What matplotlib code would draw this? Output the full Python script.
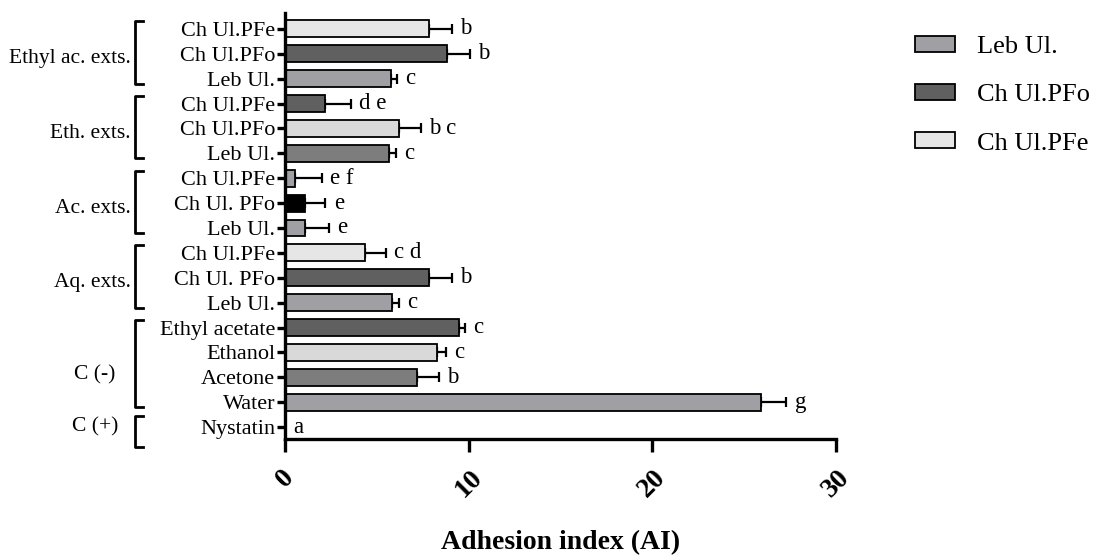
import matplotlib
matplotlib.use("Agg")
import matplotlib.pyplot as plt
import matplotlib.transforms as mtransforms
from matplotlib.patches import Patch
import numpy as np

plt.rcParams['font.family'] = ['Liberation Serif', 'DejaVu Serif']

# rows from bottom (Nystatin) to top
labels = ["Nystatin", "Water", "Acetone", "Ethanol", "Ethyl acetate",
          "Leb Ul.", "Ch Ul. PFo", "Ch Ul.PFe",
          "Leb Ul.", "Ch Ul. PFo", "Ch Ul.PFe",
          "Leb Ul.", "Ch Ul.PFo", "Ch Ul.PFe",
          "Leb Ul.", "Ch Ul.PFo", "Ch Ul.PFe"]
values = [0.0, 25.9, 7.16, 8.25, 9.45,
          5.83, 7.85, 4.36,
          1.07, 1.07, 0.55,
          5.66, 6.18, 2.18,
          5.76, 8.8, 7.85]
errors = [0.0, 1.4, 1.22, 0.5, 0.35,
          0.37, 1.25, 1.14,
          1.33, 1.13, 1.45,
          0.36, 1.2, 1.39,
          0.34, 1.25, 1.25]
letters = ["a", "g", "b", "c", "c",
           "c", "b", "c d",
           "e", "e", "e f",
           "c", "b c", "d e",
           "c", "b", "b"]
colors = ["#a0a0a4", "#a0a0a4", "#7d7d7d", "#d9d9d9", "#606060",
          "#a0a0a4", "#606060", "#e6e6e6",
          "#a0a0a4", "#000000", "#a0a0a4",
          "#7d7d7d", "#d9d9d9", "#606060",
          "#a0a0a4", "#606060", "#e6e6e6"]

# group name, bottom row, top row
groups = [("C (+)", 0, 0),
          ("C (-)", 1, 4),
          ("Aq. exts.", 5, 7),
          ("Ac. exts.", 8, 10),
          ("Eth. exts.", 11, 13),
          ("Ethyl ac. exts.", 14, 16)]

legend_names = ["Leb Ul.", "Ch Ul.PFo", "Ch Ul.PFe"]
legend_colors = ["#a0a0a4", "#606060", "#e6e6e6"]

fig = plt.figure(figsize=(10.96, 5.59), dpi=100)
ax = fig.add_axes([285 / 1096, 1 - 439 / 559, 551 / 1096, (439 - 13) / 559])

y = np.arange(len(labels))
ax.barh(y, values, height=0.68, color=colors, edgecolor="black", linewidth=1.3, zorder=2)
ax.errorbar(values, y, xerr=[np.zeros(len(errors)), errors], fmt="none",
            ecolor="black", elinewidth=1.6, capsize=3.6, capthick=1.6, zorder=1)

for yi, v, e, t in zip(y, values, errors, letters):
    ax.text(v + e + 0.45, yi, t, ha="left", va="center", fontsize=16.5)

ax.set_xlim(0, 30)
ax.set_ylim(-0.48, 16.64)
ax.set_yticks(y)
ax.set_yticklabels(labels, fontsize=16)
ax.set_xticks([0, 10, 20, 30])
ax.set_xticklabels(["0", "10", "20", "30"], rotation=45, fontsize=20, fontweight="bold")
ax.tick_params(axis="y", length=6, width=2.4, pad=1)
ax.tick_params(axis="x", length=9.5, width=2.4, pad=9)
for s in ["top", "right"]:
    ax.spines[s].set_visible(False)
for s in ["left", "bottom"]:
    ax.spines[s].set_linewidth(2.4)

ax.set_xlabel("Adhesion index (AI)", fontsize=20, fontweight="bold")
ax.xaxis.set_label_coords(0.5, -0.215)

# group brackets on the left
trans = mtransforms.blended_transform_factory(ax.transAxes, ax.transData)
bx = (135 - 285) / 551
tx = (143 - 285) / 551
for name, lo, hi in groups:
    if lo == hi:
        top, bot = hi + 0.45, lo - 0.8
    else:
        top, bot = hi + 0.3, lo - 0.2
    ax.plot([tx, bx, bx, tx], [top, top, bot, bot], color="black", lw=2,
            transform=trans, clip_on=False)
    if name.startswith("C "):
        ax.text((95 - 285) / 551, (lo + hi) / 2 - 0.4 * (hi > lo), name,
                ha="center", va="center", fontsize=15.5, transform=trans)
    else:
        ax.text(bx - 0.008, (lo + hi) / 2 - 0.2, name, ha="right", va="center",
                fontsize=15.5, transform=trans)

handles = [Patch(facecolor=c, edgecolor="black", linewidth=1.3) for c in legend_colors]
fig.legend(handles, legend_names, loc="upper left", bbox_to_anchor=(915 / 1096, 1 - 36 / 559),
           frameon=False, fontsize=19, handlelength=1.5, handleheight=0.55,
           handletextpad=0.85, labelspacing=0.98, borderpad=0, borderaxespad=0)

fig.savefig("out.png", dpi=100)
